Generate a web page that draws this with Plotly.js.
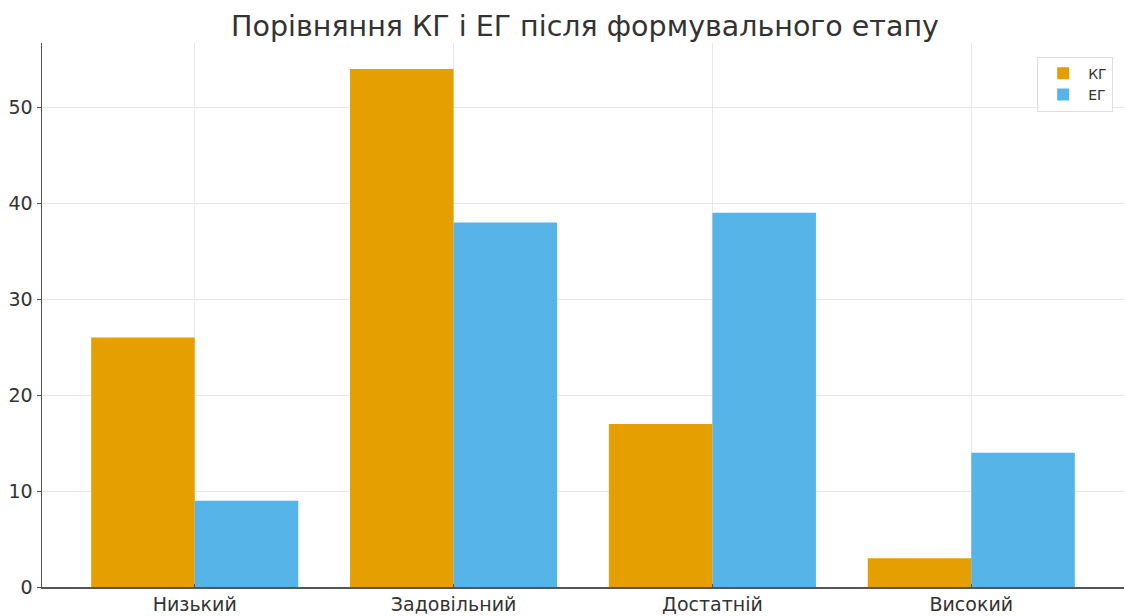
<!DOCTYPE html>
<html>
<head>
<meta charset="utf-8">
<script src="https://cdn.plot.ly/plotly-3.0.1.min.js"></script>
<style>html,body{margin:0;padding:0;background:#fff;}#chart{width:1125px;height:616px;}</style>
</head>
<body>
<div id="chart"></div>
<script>
const categories = ["Низький", "Задовільний", "Достатній", "Високий"];
const seriesNames = ["КГ", "ЕГ"];
const kgValues = [26, 54, 17, 3];
const egValues = [9, 38, 39, 14];
const yTicks = [0, 10, 20, 30, 40, 50];
const colors = ["#E69F00", "#56B4E9"];

const font = "DejaVu Sans, sans-serif";
const traces = [
  {type: "bar", name: seriesNames[0], x: categories, y: kgValues, marker: {color: colors[0]}, hoverinfo: "none"},
  {type: "bar", name: seriesNames[1], x: categories, y: egValues, marker: {color: colors[1]}, hoverinfo: "none"}
];
const layout = {
  width: 1125, height: 616,
  margin: {l: 42, r: 1, t: 43, b: 29},
  paper_bgcolor: "#fff", plot_bgcolor: "#fff",
  title: {text: "Порівняння КГ і ЕГ після формувального етапу", font: {family: font, size: 28.5, color: "#333"}, x: 0.52, xanchor: "center", y: 0.958, yanchor: "middle"},
  barmode: "group", bargap: 0.2, bargroupgap: 0,
  font: {family: font, color: "#333"},
  xaxis: {
    type: "category", range: [-0.59, 3.59],
    showgrid: true, gridcolor: "#e8e8e8", gridwidth: 1,
    showline: true, linecolor: "#555", linewidth: 1.5,
    ticks: "inside", ticklen: 3, tickcolor: "#555",
    tickfont: {family: font, size: 19, color: "#333"},
    zeroline: false, fixedrange: true
  },
  yaxis: {
    range: [0, 56.7], tickvals: yTicks,
    showgrid: true, gridcolor: "#e8e8e8", gridwidth: 1,
    showline: true, linecolor: "#555", linewidth: 1.5,
    ticks: "outside", ticklen: 4, tickcolor: "#555",
    tickfont: {family: font, size: 19, color: "#333"},
    zeroline: false, fixedrange: true
  },
  legend: {
    x: 0.99, y: 0.975, xanchor: "right", yanchor: "top",
    bgcolor: "rgba(255,255,255,0.8)", bordercolor: "#ddd", borderwidth: 1,
    font: {family: font, size: 14, color: "#333"},
    itemwidth: 40
  },
  showlegend: true
};
Plotly.newPlot("chart", traces, layout, {displayModeBar: false, staticPlot: true});
</script>
</body>
</html>
